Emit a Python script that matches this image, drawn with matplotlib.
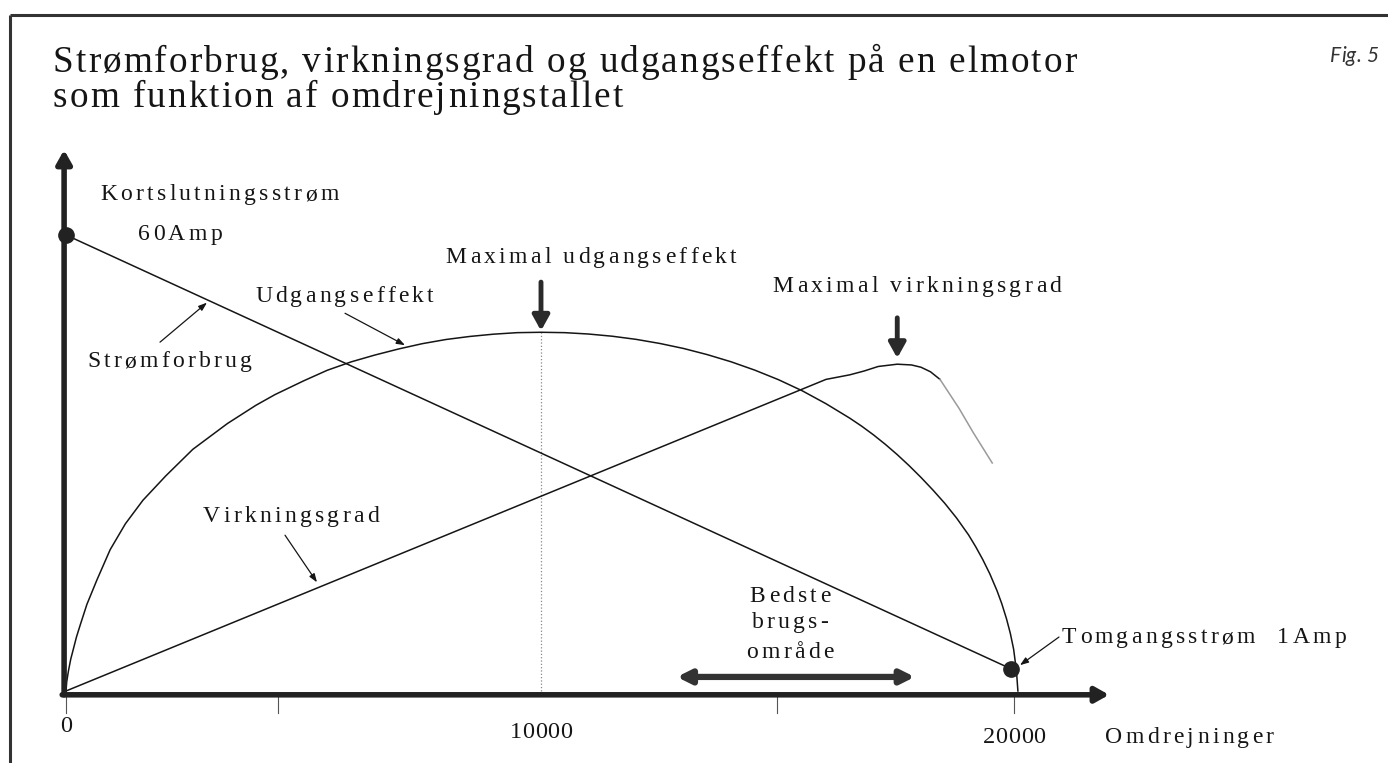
import numpy as np
import matplotlib
matplotlib.use('Agg')
import matplotlib.pyplot as plt
from matplotlib.font_manager import FontProperties, findfont
from matplotlib.ft2font import FT2Font
from matplotlib.transforms import offset_copy

DPI = 100
INK = '#151515'

# kurverne, aflaest fra figuren (x = omdrejninger, y = relativ skala)
omdr_strom = [0, 19900]
strom = [60, 2.9]

omdr_effekt = [0, 15, 50, 100, 150, 220, 300, 440, 650, 930, 1250, 1620, 2100,
               2670, 3400, 4000, 4400, 5000, 5500, 6000, 6500, 7000, 7500, 8000,
               8500, 9000, 9500, 10000, 10500, 11000, 11500, 12000, 12500,
               13000, 13500, 14000, 14500, 15000, 15500, 16000, 16500, 16750,
               17000, 17250, 17500, 17750, 18000, 18250, 18500, 18750, 19000,
               19150, 19300, 19450, 19600, 19700, 19800, 19880, 19950, 20010,
               20040]
effekt = [0, 1.2, 2.6, 4.2, 5.4, 7.1, 8.7, 11.4, 14.6, 18.6, 22.0, 25.1, 28.3,
          31.8, 35.2, 37.6, 39.0, 40.8, 42.2, 43.3, 44.2, 45.0, 45.7, 46.25,
          46.65, 46.95, 47.15, 47.2, 47.15, 46.97, 46.68, 46.27, 45.73, 45.07,
          44.26, 43.32, 42.22, 40.96, 39.5, 37.8, 35.9, 34.85,
          33.7, 32.45, 31.1, 29.65, 28.1, 26.45, 24.7, 22.75, 20.55,
          19.0, 17.3, 15.4, 13.2, 11.5, 9.5, 7.6, 5.5, 2.6,
          0]

omdr_virk = [0, 16000, 16500, 16800, 17100, 17500, 17800, 18000, 18200, 18400]
virk = [0, 41.0, 41.6, 42.1, 42.7, 43.0, 42.9, 42.6, 42.0, 41.0]
omdr_virk_hale = [18400, 18800, 19100, 19500]
virk_hale = [41.0, 37.2, 34.0, 30.0]

bedste_omraade = [12860, 17870]
ticks = [0, 4460, 14970, 19960]
tick_labels = ['0', '', '', '20000']

fig = plt.figure(figsize=(13.88, 7.63), dpi=DPI)
ax = fig.add_axes([0, 0, 1, 1])
ax.set_xlim(-1389.5, 27831.6)
ax.set_ylim(-9.474, 90.92)
ax.axis('off')


def sperret(x, y, s, size=17, track=3.3, ha='left', color=INK,
            family='Liberation Serif', style='normal'):
    '''tekst med ekstra afstand mellem bogstaverne'''
    fp = FontProperties(family=family, size=size, style=style)
    font = FT2Font(findfont(fp))
    font.set_size(size, DPI)
    adv = [font.load_char(ord(c)).linearHoriAdvance / 65536 for c in s]
    total = sum(adv) + track * (len(s) - 1)
    off = {'left': 0, 'center': -total / 2, 'right': -total}[ha]
    for c, a in zip(s, adv):
        if not c.isspace():
            tr = offset_copy(ax.transData, fig=fig, x=off, y=0, units='dots')
            ax.text(x, y, c, fontproperties=fp, color=color, ha='left',
                    va='baseline', transform=tr)
        off += a + track


def pil(start, slut, stil, lw, color=INK):
    ax.annotate('', xy=slut, xytext=start,
                arrowprops=dict(arrowstyle=stil, lw=lw, color=color,
                                shrinkA=0, shrinkB=0))


# ramme
ax.plot([-1179, 27900], [88.95, 88.95], lw=2.2, color='#333', clip_on=False,
        solid_capstyle='butt')
ax.plot([-1179, -1179], [88.95, -10], lw=2.2, color='#333', clip_on=False,
        solid_capstyle='butt')

# akser
pil((-40, -0.5), (-40, 71.2), '-|>,head_length=0.8,head_width=0.45', 4, '#222')
pil((-80, -0.5), (21960, -0.5), '-|>,head_length=0.8,head_width=0.45', 4, '#222')
for t in ticks:
    ax.plot([t, t], [-0.5, -2.9], color='#555', lw=0.8)

# kurver
top = int(np.argmax(effekt))
ax.plot([omdr_effekt[top]] * 2, [0, effekt[top]], ':', color='#888', lw=0.9)
ax.plot(omdr_effekt, effekt, color=INK, lw=1.1)
ax.plot(omdr_virk, virk, color=INK, lw=1.1)
ax.plot(omdr_virk_hale, virk_hale, color='#9a9a9a', lw=1.1)
ax.plot(omdr_strom, strom, color=INK, lw=1.1)
ax.plot(omdr_strom, strom, 'o', color='#222', ms=11)

# maksimum-pile
pil((omdr_effekt[top], 53.8), (omdr_effekt[top], effekt[top] + 0.2),
    '-|>,head_length=0.9,head_width=0.5', 3.5, '#2a2a2a')
itop = int(np.argmax(virk))
pil((omdr_virk[itop], 49.1), (omdr_virk[itop], virk[itop] + 0.8),
    '-|>,head_length=0.9,head_width=0.5', 3.5, '#2a2a2a')
pil((bedste_omraade[0], 1.85), (bedste_omraade[1], 1.85),
    '<|-|>,head_length=0.8,head_width=0.4', 4.5, '#333')

# tynde henvisningspile
tynd = '-|>,head_length=0.5,head_width=0.18'
pil((5874, 49.7), (7137, 45.5), tynd, 0.9)
pil((1979, 45.9), (2968, 51.1), tynd, 0.9)
pil((4611, 20.5), (5284, 14.3), tynd, 0.9)
pil((20905, 7.1), (20084, 3.4), tynd, 0.9)

# tekster
sperret(-274, 81.45, 'Strømforbrug, virkningsgrad og udgangseffekt på en elmotor',
        size=26.8, track=2.0)
sperret(-274, 76.84, 'som funktion af omdrejningstallet', size=26.8, track=2.0)
sperret(27621, 82.76, 'Fig. 5', size=15, track=0, ha='right',
        family=['Lato', 'DejaVu Sans'], style='italic', color='#333')

sperret(716, 64.6, 'Kortslutningsstrøm')
sperret(1516, 59.3, '60Amp')
sperret(3979, 51.2, 'Udgangseffekt')
sperret(442, 42.6, 'Strømforbrug')
sperret(11053, 56.3, 'Maximal udgangseffekt', ha='center')
sperret(17916, 52.5, 'Maximal virkningsgrad', ha='center')
sperret(2884, 22.2, 'Virkningsgrad')
sperret(15242, 11.7, 'Bedste', ha='center')
sperret(15242, 8.3, 'brugs-', ha='center')
sperret(15242, 4.3, 'område', ha='center')
sperret(20968, 6.3, 'Tomgangsstrøm')
sperret(25500, 6.3, '1Amp')
sperret(21874, -6.8, 'Omdrejninger')

for t, lab in zip(ticks, tick_labels):
    if lab:
        sperret(t, -5.4 if t == 0 else -6.8, lab, size=17.5, track=0.5,
                ha='center')
sperret(10000, -6.2, '10000', size=17.5, track=0.5, ha='center')

fig.savefig('out.png', dpi=DPI, facecolor='white')
